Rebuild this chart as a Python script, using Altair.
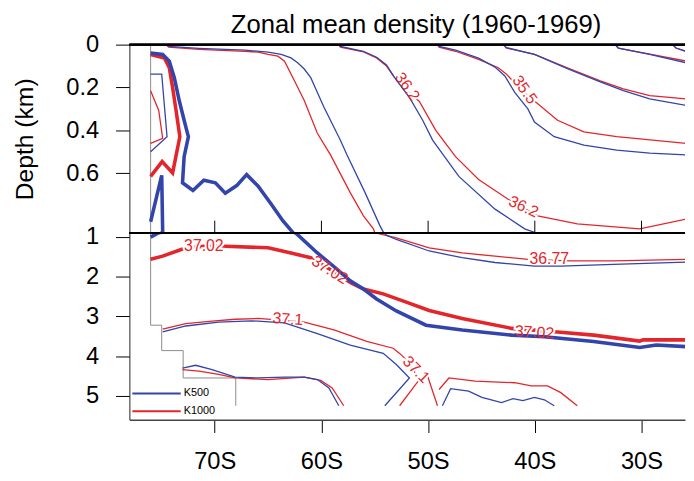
import altair as alt
import pandas as pd

# ---------------- values ----------------
lat_ticks = [-70, -60, -50, -40, -30]
top_depth_ticks = [0, 0.2, 0.4, 0.6]
bottom_depth_ticks = [1, 2, 3, 4, 5]
runs = ["K500", "K1000"]

# 37.02 contour (thick)
k500_a_lat = [-76.01, -74.88, -74.26, -73.79, -73.33, -72.87, -72.47, -72.87, -73.02, -72.04, -71.02, -69.94,
              -69.01, -67.94, -67.01, -65.93, -64.70, -63.62, -62.69, -62.39, -60.38, -58.53, -57.30, -56.06,
              -54.83, -52.98, -50.20, -46.81, -42.18, -39.10, -34.48, -30.16, -28.62, -25.85]
k500_a_dep = [0.039, 0.046, 0.077, 0.154, 0.261, 0.353, 0.430, 0.523, 0.645, 0.681, 0.633, 0.645,
              0.694, 0.658, 0.607, 0.661, 0.745, 0.822, 0.876, 0.90, 1.40, 1.81, 2.10, 2.31,
              2.56, 2.86, 3.22, 3.34, 3.47, 3.51, 3.63, 3.78, 3.72, 3.76]
k500_b_lat = [-76.01, -74.97, -74.88, -75.34, -76.01]
k500_b_dep = [0.827, 0.610, 0.873, 0.90, 1.0]
k1000_a_lat = [-76.01, -74.72, -74.26, -73.95, -73.58, -73.27, -73.95, -74.93, -76.01]
k1000_a_dep = [0.046, 0.062, 0.108, 0.200, 0.323, 0.430, 0.599, 0.546, 0.615]
k1000_b_lat = [-76.01, -74.88, -73.02, -71.02, -69.01, -65.00, -62.85, -61.00, -59.15, -57.30, -56.06,
               -54.21, -52.05, -49.90, -46.81, -42.18, -37.87, -34.48, -30.16, -29.85, -25.85]
k1000_b_dep = [1.56, 1.48, 1.30, 1.23, 1.23, 1.27, 1.40, 1.52, 1.82, 2.14, 2.31,
               2.43, 2.64, 2.85, 3.05, 3.30, 3.39, 3.47, 3.62, 3.59, 3.59]

# small loops next to the shelf
k500_c_lat = [-76.01, -74.97, -74.47, -76.01]
k500_c_dep = [0.138, 0.138, 0.430, 0.500]
k1000_c_lat = [-76.01, -75.25, -74.88, -76.01]
k1000_c_dep = [0.215, 0.307, 0.438, 0.461]

# 36.77 contour
k1000_d_lat = [-74.56, -74.32, -71.48, -67.16, -65.93, -65.00, -64.08, -63.46, -62.53, -61.61, -60.38, -59.15,
               -57.30, -56.06, -55.13, -54.83, -52.98, -49.90, -46.81, -43.73, -40.65, -36.63, -32.63, -25.85]
k1000_d_dep = [0.0, 0.012, 0.022, 0.031, 0.035, 0.046, 0.054, 0.077, 0.169, 0.261, 0.414, 0.515,
               0.691, 0.799, 0.860, 0.90, 1.02, 1.27, 1.40, 1.48, 1.56, 1.60, 1.60, 1.56]
k500_d_lat = [-74.56, -74.32, -71.48, -67.16, -65.00, -63.77, -62.85, -62.23, -61.61, -61.00, -60.38, -59.76,
              -58.22, -57.60, -55.91, -54.52, -54.21, -53.90, -52.98, -49.90, -46.81, -43.73, -40.03, -37.56,
              -32.63, -25.85]
k500_d_dep = [0.0, 0.008, 0.017, 0.026, 0.035, 0.046, 0.062, 0.085, 0.114, 0.154, 0.223, 0.292,
              0.446, 0.515, 0.691, 0.845, 0.874, 0.95, 1.06, 1.35, 1.52, 1.64, 1.73, 1.73,
              1.69, 1.63]

# 36.2 contour
k1000_e_lat = [-58.37, -58.22, -56.06, -54.83, -53.90, -53.14, -52.36, -50.82, -49.28, -47.43, -45.27, -42.50,
               -39.72, -36.02, -30.16, -25.78]
k1000_e_dep = [0.0, 0.012, 0.034, 0.062, 0.100, 0.154, 0.200, 0.265, 0.400, 0.523, 0.630, 0.722,
               0.799, 0.837, 0.860, 0.814]
k500_e_lat = [-58.37, -58.22, -56.06, -54.83, -53.90, -53.14, -52.36, -51.75, -50.51, -49.58, -47.12, -43.73,
              -40.95, -40.03, -36.00, -25.78]
k500_e_dep = [0.0, 0.008, 0.031, 0.059, 0.095, 0.154, 0.206, 0.246, 0.353, 0.446, 0.615, 0.768,
              0.860, 0.876, 0.878, 0.878]

# 35.5 contour
k1000_f_lat = [-49.12, -48.97, -47.43, -45.27, -43.42, -42.65, -41.23, -39.72, -37.87, -35.40, -32.32, -25.78]
k1000_f_dep = [0.0, 0.012, 0.031, 0.069, 0.108, 0.138, 0.215, 0.276, 0.353, 0.407, 0.430, 0.461]
k500_f_lat = [-49.12, -48.97, -47.43, -45.27, -43.73, -42.81, -41.88, -40.65, -40.03, -38.18, -35.40, -32.32,
              -29.23, -25.78]
k500_f_dep = [0.0, 0.008, 0.026, 0.063, 0.105, 0.146, 0.223, 0.300, 0.361, 0.430, 0.469, 0.492,
              0.507, 0.515]

# lighter surface contours further north
k1000_g_lat = [-42.96, -42.65, -40.03, -36.95, -33.86, -31.70, -29.23, -25.78]
k1000_g_dep = [0.0, 0.016, 0.046, 0.108, 0.169, 0.207, 0.238, 0.253]
k500_g_lat = [-42.96, -42.65, -40.03, -36.95, -33.86, -31.70, -29.23, -25.78]
k500_g_dep = [0.0, 0.014, 0.046, 0.112, 0.174, 0.215, 0.253, 0.284]
k1000_h_lat = [-32.47, -32.17, -29.23, -25.78]
k1000_h_dep = [0.0, 0.016, 0.044, 0.077]
k500_h_lat = [-32.47, -32.17, -29.23, -25.78]
k500_h_dep = [0.0, 0.016, 0.046, 0.085]
k1000_i_lat = [-27.08, -26.77, -25.78]
k1000_i_dep = [0.0, 0.016, 0.031]
k500_i_lat = [-27.08, -26.77, -25.78]
k500_i_dep = [0.0, 0.016, 0.033]

# 37.1 contour
k1000_j_lat = [-74.88, -72.71, -70.25, -68.09, -65.93, -61.61, -58.83, -55.75, -53.28, -52.67, -52.21, -51.31,
               -50.82, -52.67]
k1000_j_dep = [3.32, 3.18, 3.12, 3.07, 3.05, 3.14, 3.34, 3.63, 3.80, 3.93, 4.05, 4.38,
               4.59, 5.25]
k1000_k_lat = [-50.20, -50.05, -49.12]
k1000_k_dep = [4.40, 4.50, 5.25]
k1000_l_lat = [-48.97, -48.05, -45.58, -41.88, -40.33, -38.80, -37.56, -36.02]
k1000_l_dep = [4.84, 4.55, 4.63, 4.67, 4.75, 4.75, 4.92, 5.25]
k500_j_lat = [-74.88, -72.71, -69.63, -66.55, -63.46, -60.38, -57.30, -54.21, -52.98, -51.75, -54.06]
k500_j_dep = [3.39, 3.24, 3.14, 3.11, 3.16, 3.43, 3.72, 3.93, 4.21, 4.55, 5.25]
k500_k_lat = [-48.66, -47.89, -46.20, -44.96, -43.11, -42.04, -41.11, -40.03, -39.10, -38.18]
k500_k_dep = [5.25, 4.82, 4.88, 5.04, 5.17, 5.07, 5.12, 5.04, 5.10, 5.25]

# deepest contour over the continental slope
k500_m_lat = [-73.02, -71.79, -70.25, -68.09, -65.93, -63.46, -61.61, -60.38, -59.30, -58.37]
k500_m_dep = [4.30, 4.23, 4.34, 4.53, 4.55, 4.53, 4.53, 4.59, 4.80, 5.25]
k1000_m_lat = [-73.02, -71.48, -69.63, -68.09, -65.00, -61.61, -60.07, -58.99, -57.91]
k1000_m_dep = [4.34, 4.38, 4.46, 4.55, 4.59, 4.53, 4.61, 4.80, 5.25]

# bathymetry / land outline
land_lat = [-76.01, -76.01, -74.97, -74.97, -72.96, -72.96, -68.03, -68.03]
land_dep = [0.0, 3.22, 3.22, 3.86, 3.86, 4.55, 4.55, 5.25]

# contour labels
label_txt = ["36.2", "36.2", "35.5", "37.02", "37.02", "37.02", "36.77", "37.1", "37.1"]
label_lat = [-51.96, -41.05, -40.95, -71.02, -59.22, -40.03, -38.64, -63.15, -51.13]
label_dep = [0.197, 0.757, 0.211, 1.23, 1.83, 3.40, 1.56, 3.07, 4.34]
label_ang = [55, 25, 55, 0, 32, 4, 0, 4, 45]

# ---------------- assemble tables ----------------
contours = [
    ("K500", True, k500_a_lat, k500_a_dep), ("K500", True, k500_b_lat, k500_b_dep),
    ("K1000", True, k1000_a_lat, k1000_a_dep), ("K1000", True, k1000_b_lat, k1000_b_dep),
    ("K500", False, k500_c_lat, k500_c_dep), ("K1000", False, k1000_c_lat, k1000_c_dep),
    ("K500", False, k500_d_lat, k500_d_dep), ("K1000", False, k1000_d_lat, k1000_d_dep),
    ("K500", False, k500_e_lat, k500_e_dep), ("K1000", False, k1000_e_lat, k1000_e_dep),
    ("K500", False, k500_f_lat, k500_f_dep), ("K1000", False, k1000_f_lat, k1000_f_dep),
    ("K500", False, k500_g_lat, k500_g_dep), ("K1000", False, k1000_g_lat, k1000_g_dep),
    ("K500", False, k500_h_lat, k500_h_dep), ("K1000", False, k1000_h_lat, k1000_h_dep),
    ("K500", False, k500_i_lat, k500_i_dep), ("K1000", False, k1000_i_lat, k1000_i_dep),
    ("K1000", False, k1000_j_lat, k1000_j_dep), ("K1000", False, k1000_k_lat, k1000_k_dep),
    ("K1000", False, k1000_l_lat, k1000_l_dep),
    ("K500", False, k500_j_lat, k500_j_dep), ("K500", False, k500_k_lat, k500_k_dep),
    ("K500", False, k500_m_lat, k500_m_dep), ("K1000", False, k1000_m_lat, k1000_m_dep),
]
rows = []
for sid, (run, thick, lats, deps) in enumerate(contours):
    for i, (la, de) in enumerate(zip(lats, deps)):
        rows.append({"seg": sid, "run": run, "thick": thick, "lat": la, "dep": de, "ord": i})
lines_df = pd.DataFrame(rows)
land_df = pd.DataFrame({"lat": land_lat, "dep": land_dep, "ord": list(range(len(land_lat)))})
labels_df = pd.DataFrame({"txt": label_txt, "lat": label_lat, "dep": label_dep, "ang": label_ang})
ticks_df = pd.DataFrame({"lat": lat_ticks})

# ---------------- styling ----------------
BLUE = "#3344AA"
RED = "#E3262B"
GRAY = "#8A8A8A"
FONT = "Liberation Sans"
W = 563
H_TOP = 191
H_BOT = 189
color_scale = alt.Scale(domain=runs, range=[BLUE, RED])
x_scale = alt.Scale(domain=[-78, -25.92], nice=False, zero=False)


def panel(ydomain, yaxis, xaxis, height, label_filter, border_depth, legend=None, inner_ticks=False):
    ys = alt.Scale(domain=ydomain, reverse=True, nice=False, zero=False)

    land = alt.Chart(land_df).mark_line(color=GRAY, strokeWidth=1, clip=True).encode(
        x=alt.X("lat:Q", scale=x_scale, axis=xaxis),
        y=alt.Y("dep:Q", scale=ys, axis=yaxis),
        order="ord:Q",
    )

    def lines(run, thick, own_legend=False):
        if legend is None:
            col = alt.Color("run:N", scale=color_scale, legend=None)
        elif own_legend:
            col = alt.Color("run:N", scale=color_scale, legend=legend)
        else:
            col = alt.Color("run:N", scale=color_scale)
        return alt.Chart(lines_df).transform_filter(
            (alt.datum.run == run) & (alt.datum.thick == thick)
        ).mark_line(strokeWidth=3.6 if thick else 1.3, clip=True).encode(
            x=alt.X("lat:Q"),
            y=alt.Y("dep:Q"),
            color=col,
            detail="seg:N",
            order="ord:Q",
        )

    def texts(fill, stroke_w):
        kw = dict(font=FONT, fontSize=16, color=fill, align="center", baseline="middle")
        if stroke_w:
            kw.update(stroke=fill, strokeWidth=stroke_w)
        return alt.Chart(labels_df).transform_filter(label_filter).mark_text(**kw).encode(
            x=alt.X("lat:Q"),
            y=alt.Y("dep:Q"),
            text="txt:N",
            angle=alt.Angle("ang:Q", scale=None),
        )

    # horizontal frame line at the top edge of the panel
    border = alt.Chart(ticks_df).mark_rule(color="black", strokeWidth=2).encode(
        y=alt.datum(border_depth), x=alt.value(0), x2=alt.value(W)
    )

    layers = [
        land,
        lines("K1000", False, own_legend=True),
        lines("K1000", True),
        texts("white", 4),
        lines("K500", False),
        lines("K500", True),
        texts(RED, 0),
        border,
    ]
    if inner_ticks:
        layers.append(
            alt.Chart(ticks_df).mark_rule(color="black", strokeWidth=1).encode(
                x=alt.X("lat:Q"), y=alt.value(height - 12.6), y2=alt.value(height)
            )
        )
    return alt.layer(*layers).properties(width=W, height=height)


yaxis_common = dict(tickSize=14, tickColor="black", tickWidth=1, labelFont=FONT, labelFontSize=24,
                    labelColor="black", labelPadding=17, labelFlush=False, labelOverlap=False,
                    domainColor="#222222", domainWidth=1, grid=False)

top = panel(
    [0, 0.88],
    alt.Axis(values=top_depth_ticks, format="~g", title="Depth (km)", titleFont=FONT, titleFontSize=25,
             titleFontWeight="normal", titleColor="black", titlePadding=28.5, **yaxis_common),
    None,
    H_TOP,
    alt.datum.dep < 0.88,
    0,
    inner_ticks=True,
).properties(title=alt.TitleParams(text="Zonal mean density (1960-1969)", font=FONT, fontSize=26,
                                   fontWeight="normal", color="black", anchor="middle", frame="group",
                                   dx=9, offset=-5))

bottom = panel(
    [0.9, 5.6],
    alt.Axis(values=bottom_depth_ticks, format="~g", title=None, **yaxis_common),
    alt.Axis(orient="bottom", values=lat_ticks, labelExpr="abs(datum.value) + 'S'", tickSize=13,
             tickColor="black", tickWidth=1, labelFont=FONT, labelFontSize=24, labelColor="black",
             labelPadding=18, labelFlush=False, domainColor="#444444", domainWidth=1.5, grid=False,
             title=None),
    H_BOT,
    alt.datum.dep >= 0.9,
    0.9,
    legend=alt.Legend(title=None, orient="bottom-left", symbolType="stroke", symbolSize=2401,
                      symbolStrokeWidth=2, labelFont=FONT, labelFontSize=11, labelColor="black",
                      labelOffset=2, offset=2, padding=0, rowPadding=5, clipHeight=13),
)

chart = alt.vconcat(top, bottom, spacing=0, bounds="flush").resolve_scale(
    x="independent", y="independent", color="independent"
).properties(
    padding={"left": 5, "top": 1, "right": 0, "bottom": 0}
).configure(font=FONT).configure_view(stroke=None)

chart.save("out.html", embed_options={"renderer": "svg", "actions": False})
